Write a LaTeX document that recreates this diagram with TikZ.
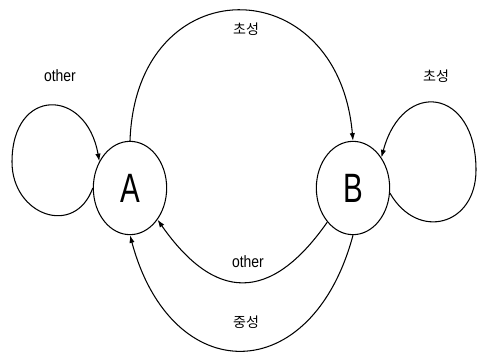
\documentclass[tikz,border=0pt]{standalone}
\usepackage{fontspec}
\setmainfont{Liberation Sans}
\newfontfamily\korfont{Noto Sans CJK KR}
\usepackage{tikz}
\usetikzlibrary{arrows.meta,positioning,shapes.geometric}

\begin{document}
\begin{tikzpicture}[x=0.03cm, y=0.03cm, every node/.style={font=\fontsize{14}{16}\selectfont}]
\tikzset{statenode/.style={draw, ellipse, line width=0.9pt, inner sep=0pt, minimum width=2.2cm, minimum height=2.8cm, font=\fontsize{35}{38}\selectfont}}
\tikzset{arrow/.style={-{Latex[length=2.3mm, width=1.6mm]}, line width=0.9pt}}
\tikzset{korlabel/.style={font=\korfont\fontsize{12}{14}\selectfont}}
\useasboundingbox (0,0) rectangle (478,352);
\node[statenode] (A) at (130,164) {\scalebox{0.72}[1]{A}};
\node[statenode] (B) at (353,164) {\scalebox{0.72}[1]{B}};
\coordinate (aloop) at (12,190);
\coordinate (bloop) at (476,182);
\node (otherA) at (60,276) {\scalebox{0.85}[1]{other}};
\node[korlabel] (choA) at (246,323) {초성};
\node[korlabel] (choB) at (436,276) {초성};
\node (otherB) at (248,90) {\scalebox{0.85}[1]{other}};
\node[korlabel] (jung) at (246,30) {중성};
\draw[arrow] (A.180) to[out=250, in=270, looseness=1.6] (aloop) to[out=90, in=100, looseness=2.2] (A.139);
\draw[arrow] (B.352) to[out=-60, in=270, looseness=1.6] (bloop) to[out=90, in=75, looseness=2.2] (B.47);
\draw[arrow] (A.north) to[out=88, in=95, looseness=2.0] (B.north);
\draw[arrow] (B.233) to[out=235, in=-55, looseness=1.5] (A.311);
\draw[arrow] (B.south) to[out=255, in=-75, looseness=1.83] (A.south);
\end{tikzpicture}
\end{document}
